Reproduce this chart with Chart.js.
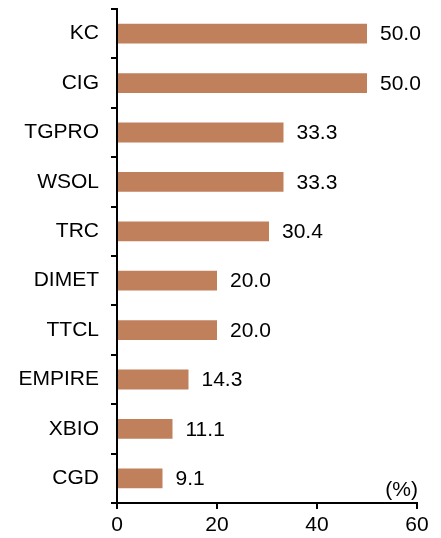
<!DOCTYPE html>
<html>
<head>
<meta charset="utf-8">
<script src="https://cdn.jsdelivr.net/npm/chart.js@4"></script>
<style>
  html, body { margin: 0; padding: 0; background: #ffffff; }
  #wrap { width: 441px; height: 538px; }
</style>
</head>
<body>
<div id="wrap"><canvas id="chart" width="441" height="538"></canvas></div>
<script>
const categories = ['KC', 'CIG', 'TGPRO', 'WSOL', 'TRC', 'DIMET', 'TTCL', 'EMPIRE', 'XBIO', 'CGD'];
const values = [50.0, 50.0, 33.3, 33.3, 30.4, 20.0, 20.0, 14.3, 11.1, 9.1];
const xTicks = [0, 20, 40, 60];
const unitLabel = '(%)';

const FONT = 'Arial, "Liberation Sans", sans-serif';

// value labels at the bar ends + the unit text
const labelPlugin = {
  id: 'barLabels',
  afterDatasetsDraw(chart) {
    const ctx = chart.ctx;
    const meta = chart.getDatasetMeta(0);
    ctx.save();
    ctx.fillStyle = '#000';
    ctx.font = '21px ' + FONT;
    ctx.textBaseline = 'middle';
    ctx.textAlign = 'left';
    meta.data.forEach(function (bar, i) {
      ctx.fillText(values[i].toFixed(1), bar.x + 13, bar.y + 1);
    });
    const area = chart.chartArea;
    ctx.textAlign = 'right';
    ctx.fillText(unitLabel, area.right + 1, area.bottom - 13);
    ctx.restore();
  }
};

const ctx = document.getElementById('chart').getContext('2d');
const chart = new Chart(ctx, {
  type: 'bar',
  data: {
    labels: categories,
    datasets: [{
      data: values,
      backgroundColor: '#C0805C',
      borderWidth: 0,
      barPercentage: 0.4,
      categoryPercentage: 1.0
    }]
  },
  options: {
    indexAxis: 'y',
    responsive: false,
    animation: false,
    layout: { padding: { top: 9, right: 24, left: 0, bottom: 0 } },
    plugins: {
      legend: { display: false },
      tooltip: { enabled: false }
    },
    scales: {
      x: {
        min: 0,
        max: 60,
        afterBuildTicks: function (scale) {
          scale.ticks = xTicks.map(v => ({ value: v }));
        },
        afterFit: function (scale) {
          scale.height = 35;
          scale.paddingLeft = 0;
          scale.paddingRight = 0;
        },
        grid: { drawOnChartArea: false, drawTicks: true, tickLength: 6, color: '#000', lineWidth: 2 },
        border: { display: true, color: '#000', width: 2 },
        ticks: { color: '#000', font: { family: FONT, size: 21 }, padding: 4, maxRotation: 0 }
      },
      y: {
        afterFit: function (scale) {
          scale.width = 117;
          scale.paddingTop = 0;
          scale.paddingBottom = 0;
        },
        grid: { drawOnChartArea: false, drawTicks: true, tickLength: 6, color: '#000', lineWidth: 2, offset: true },
        border: { display: true, color: '#000', width: 2 },
        ticks: { color: '#000', font: { family: FONT, size: 21 }, padding: 12 }
      }
    }
  },
  plugins: [labelPlugin]
});
</script>
</body>
</html>
